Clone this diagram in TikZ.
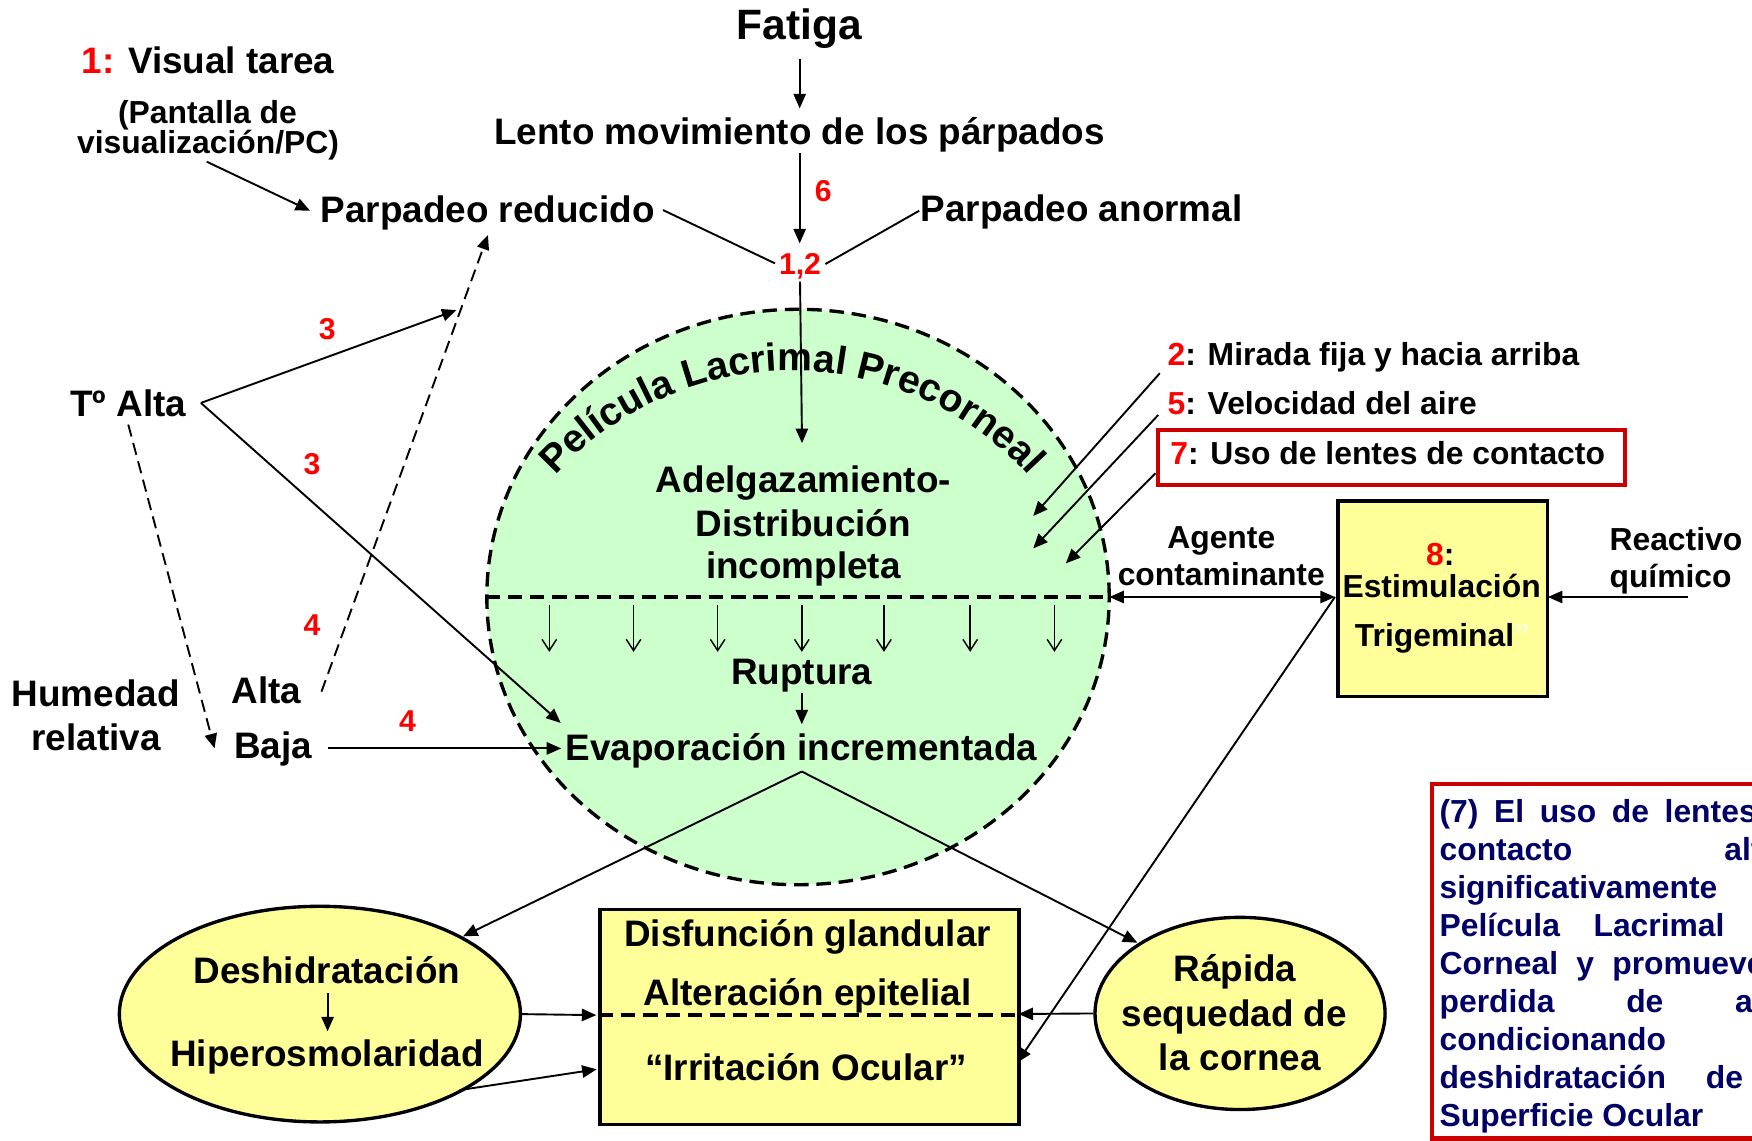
\documentclass[tikz,border=0pt]{standalone}
\usepackage{fontspec}
\setmainfont{Liberation Sans}
\usetikzlibrary{arrows.meta,shapes.geometric,decorations.text}
\definecolor{numred}{RGB}{255,0,0}
\definecolor{boxred}{RGB}{204,0,0}
\definecolor{lgreen}{RGB}{204,255,204}
\definecolor{yel}{RGB}{255,255,153}
\definecolor{navy}{RGB}{0,0,102}
\definecolor{faint}{RGB}{255,255,215}
\tikzset{
  txt/.style={anchor=base, inner sep=0pt, font=\fontsize{33}{40}\selectfont\bfseries},
  txts/.style={anchor=base, inner sep=0pt, font=\fontsize{28.5}{34}\selectfont\bfseries},
  num/.style={anchor=base, inner sep=0pt, text=numred, font=\fontsize{27}{30}\selectfont\bfseries},
  arr/.style={line width=1.7pt, -{Triangle[length=13pt,width=11pt]}},
  dblarr/.style={line width=1.7pt, {Triangle[length=13pt,width=11pt]}-{Triangle[length=13pt,width=11pt]}},
  lnk/.style={line width=1.7pt},
  darr/.style={arr, dash pattern=on 11pt off 6pt},
  dropd/.style={line width=1.3pt, -{Straight Barb[length=10pt,width=13pt,line width=1.3pt]}},
  bord/.style={line width=3pt},
  dsh/.style={dash pattern=on 13pt off 7pt},
}
\begin{document}
\begin{tikzpicture}[x=1pt,y=-1pt]
\useasboundingbox (0,0) rectangle (1568,1021);
\fill[white] (0,0) rectangle (1568,1021);

% ---- shapes ----
\node[ellipse, draw, bord, dsh, fill=lgreen, inner sep=0pt, minimum width=557, minimum height=515] (film) at (714.2,534.3) {};
\draw[bord, dsh] (film.west) -- (film.east);
\node[draw, bord, fill=yel, inner sep=0pt, minimum width=187.4, minimum height=175.1, anchor=north west] (trig) at (1196,446.9) {};
\node[draw=boxred, line width=3.5pt, fill=white, inner sep=0pt, minimum width=417.4, minimum height=48.6, anchor=north west] (uso) at (1035,383.4) {};
\node[ellipse, draw, bord, fill=yel, inner sep=0pt, minimum width=359, minimum height=193] (desh) at (286.3,907.6) {};
\node[draw, bord, fill=yel, inner sep=0pt, minimum width=374.8, minimum height=192.2, anchor=north west] (gl) at (535.6,812.7) {};
\node[ellipse, draw, bord, fill=yel, inner sep=0pt, minimum width=259.6, minimum height=172] (rap) at (1109.8,907) {};
\coordinate (glL) at (535.6,908.5);
\coordinate (glR) at (910.4,908.5);
\draw[bord, dsh] (glL) -- (glR);

% ---- arc text ----
\path[decorate, decoration={text along path, text align=center,
  text={|\fontsize{35}{35}\selectfont\bfseries|Película Lacrimal Precorneal}}]
  (492,431) arc[start angle=-139.1, end angle=-40.9, radius=286.7];

% ---- text nodes ----
\node[txt, font=\fontsize{38}{44}\selectfont\bfseries] (fat) at (715.4,35.2) {Fatiga};
\node[txt] (visual) at (186.2,65.6) {\textcolor{numred}{1:} Visual tarea};
\node[txts] (pant1) at (185.7,110.4) {(Pantalla de};
\node[txts] (pant2) at (186.2,137.2) {visualización/PC)};
\node[txt] (lento) at (715.5,128.9) {Lento movimiento de los párpados};
\node[txt] (pred) at (436.5,199.3) {Parpadeo reducido};
\node[txt] (panorm) at (968,198.4) {Parpadeo anormal};
\node[num] (n6) at (736.8,180.5) {6};
\node[num] (n12) at (716,246.1) {1,2};
\node[txt] (talta) at (114.7,373) {Tº Alta};
\node[num] (n3a) at (292.9,303.7) {3};
\node[num] (n3b) at (279.2,425) {3};
\node[num] (n4a) at (279.2,568.4) {4};
\node[num] (n4b) at (364.8,654.9) {4};
\node[txt] (hum1) at (85.7,632.5) {Humedad};
\node[txt] (hum2) at (86,671.3) {relativa};
\node[txt] (alta) at (238.6,629.5) {Alta};
\node[txt] (baja) at (244.3,678.7) {Baja};
\node[txts, anchor=base west] (mir) at (1044.8,326.7) {\textcolor{numred}{2}: Mirada fija y hacia arriba};
\node[txts, anchor=base west] (vel) at (1044.8,371.4) {\textcolor{numred}{5}: Velocidad del aire};
\node[txts, anchor=base west] (usot) at (1047.2,415.3) {\textcolor{numred}{7}: Uso de lentes de contacto};
\node[txts] (agen1) at (1093,490.8) {Agente};
\node[txts] (agen2) at (1093,523.6) {contaminante};
\node[txts, anchor=base west] (reac1) at (1440.3,492.9) {Reactivo};
\node[txts, anchor=base west] (reac2) at (1440.3,525.7) {químico};
\node[txts] (t8a) at (1289,505.7) {\textcolor{numred}{8}:};
\node[txts] (t8b) at (1290.2,534.6) {Estimulación};
\node[txts] (t8c) at (1291,578.2) {Trigeminal\textcolor{faint}{”}};
\node[txt] (adel1) at (719,441) {Adelgazamiento-};
\node[txt] (adel2) at (719,479.7) {Distribución};
\node[txt] (adel3) at (719,517.6) {incompleta};
\node[txt] (rupt) at (717.6,612.6) {Ruptura};
\node[txt] (evap) at (717.3,680.7) {Evaporación incrementada};
\node[txt] (desh1) at (292.6,880.4) {Deshidratación};
\node[txt] (desh2) at (292.6,954.5) {Hiperosmolaridad};
\node[txt] (gl1) at (722.7,847.4) {Disfunción glandular};
\node[txt] (gl2) at (722.7,899.9) {Alteración epitelial};
\node[txt] (gl3) at (721.4,967.3) {“Irritación Ocular”};
\node[txt] (rap1) at (1105.3,878) {Rápida};
\node[txt] (rap2) at (1104.6,918.9) {sequedad de};
\node[txt] (rap3) at (1109.5,957.7) {la cornea};

% ---- connector end points ----
\coordinate (fatS) at (715.7,53);
\coordinate (lenN) at (715.7,97);
\coordinate (lenS) at (715.7,137.2);
\coordinate (j12N) at (715.7,217.8);
\coordinate (prE) at (593.4,188);
\coordinate (j12W) at (693.6,235.7);
\coordinate (paW) at (822.7,188.6);
\coordinate (j12E) at (738.7,236.3);
\coordinate (j12S) at (716,252);
\coordinate (adN) at (717.8,396.6);
\coordinate (pcS) at (185,144.7);
\coordinate (prW) at (277.5,188.6);
\coordinate (taE) at (179.8,360.6);
\coordinate (prSE) at (408.5,277.5);
\coordinate (evNW) at (501.8,647);
\coordinate (taS) at (114.8,380);
\coordinate (bajNW) at (192,669.7);
\coordinate (altE) at (287.7,619);
\coordinate (prS) at (436.7,210.3);
\coordinate (bajE) at (293.8,669.8);
\coordinate (evW) at (502.3,669.8);
\coordinate (c2) at (1038,334);
\coordinate (t2) at (924.7,461.8);
\coordinate (c5) at (1036.6,371.4);
\coordinate (t5) at (924.7,490.8);
\coordinate (c7) at (1034,423.6);
\coordinate (t7) at (953.9,504.2);
\coordinate (filmE) at (992.8,534.3);
\coordinate (trigW) at (1194.7,534.3);
\coordinate (reacS) at (1510.8,534.3);
\coordinate (trigE) at (1385.3,534.3);
\coordinate (irrE) at (910.4,950.9);
\coordinate (evS) at (717.6,690.5);
\coordinate (deshNE) at (414.4,838);
\coordinate (rapNW) at (1017.9,843.7);
\coordinate (ruS) at (717.6,620.4);
\coordinate (evN) at (717.6,648.2);
\coordinate (glW1) at (533.7,908.5);
\coordinate (deshSE) at (411.3,975.6);
\coordinate (glW2) at (534,957);
\coordinate (glE) at (911.5,907.5);
\coordinate (d1S) at (293.2,889);
\coordinate (d2N) at (293.2,923);

% ---- connectors ----
\draw[arr] (fatS) -- (lenN);
\draw[arr] (lenS) -- (j12N);
\draw[lnk] (prE) -- (j12W);
\draw[lnk] (paW) -- (j12E);
\draw[arr] (j12S) -- (adN);
\draw[arr] (pcS) -- (prW);
\draw[arr] (taE) -- (prSE);
\draw[arr] (taE) -- (evNW);
\draw[darr] (taS) -- (bajNW);
\draw[darr] (altE) -- (prS);
\draw[arr] (bajE) -- (evW);
\draw[arr] (c2) -- (t2);
\draw[arr] (c5) -- (t5);
\draw[arr] (c7) -- (t7);
\draw[dblarr] (filmE) -- (trigW);
\draw[arr] (reacS) -- (trigE);
\draw[arr] (trigW) -- (irrE);
\draw[arr] (evS) -- (deshNE);
\draw[arr] (evS) -- (rapNW);
\draw[arr] (ruS) -- (evN);
\draw[arr] (desh.east) -- (glW1);
\draw[arr] (deshSE) -- (glW2);
\draw[arr] (rap.west) -- (glE);
\draw[arr] (d1S) -- (d2N);
\foreach \x in {491.6,567,642.3,717.6,791.1,868.3,943.7}
  \draw[dropd] (\x,541.6) -- (\x,583.4);

% ---- clipped note box ----
\begin{scope}
\clip (0,0) rectangle (1568,1021);
\draw[boxred, line width=4pt] (1281.6,701.7) rectangle (1660,1018.8);
\node[anchor=north west, inner sep=0pt, text width=331pt, align=justify, text=navy,
  font=\fontsize{28.5}{34}\selectfont\bfseries] (note) at (1288.2,715.5)
  {(7) El uso de lentes de\linebreak contacto altera\linebreak significativamente la\linebreak Película Lacrimal Pre\linebreak Corneal y promueve la\linebreak perdida de agua\linebreak condicionando la\linebreak deshidratación de la\linebreak Superficie Ocular};
\end{scope}
\end{tikzpicture}
\end{document}
